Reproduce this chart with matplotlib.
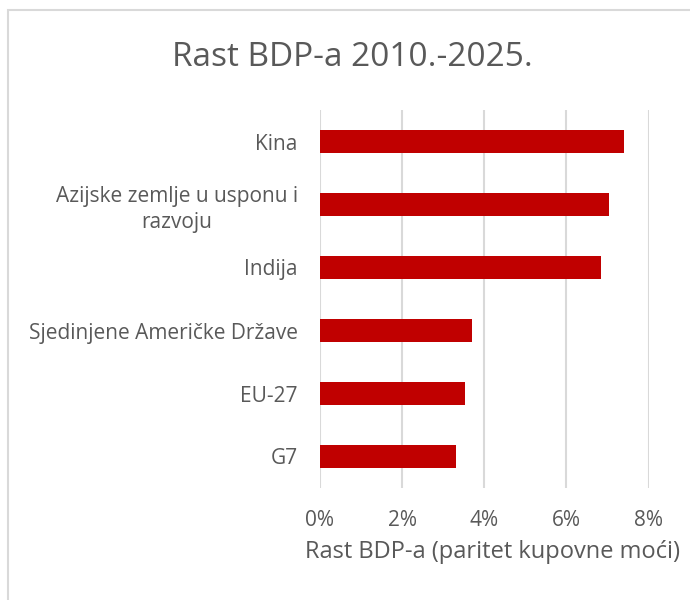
import matplotlib
matplotlib.use("Agg")
import matplotlib.pyplot as plt
from matplotlib.patches import Rectangle
from matplotlib.ticker import PercentFormatter

# Podaci (procjena s grafa), od vrha prema dnu
zemlje = ['Kina', 'Azijske zemlje u usponu i\nrazvoju', 'Indija',
          'Sjedinjene Američke Države', 'EU-27', 'G7']
rast = [7.41, 7.04, 6.85, 3.69, 3.54, 3.32]
ticks = [0, 2, 4, 6, 8]

text_col = '#595959'
bar_col = '#C00000'
grid_col = '#d9d9d9'

plt.rcParams['font.family'] = ['Open Sans', 'DejaVu Sans']

fig = plt.figure(figsize=(6.9, 6.0), dpi=100)
ax = fig.add_axes([320 / 690, 1 - 488 / 600, 328.5 / 690, 378 / 600])

y = list(range(len(zemlje)))[::-1]
ax.barh(y, rast, height=0.35, color=bar_col, zorder=3)

ax.set_xlim(0, 8)
ax.set_ylim(-0.5, len(zemlje) - 0.5)
ax.set_xticks(ticks)
ax.xaxis.set_major_formatter(PercentFormatter(decimals=0))
ax.set_yticks(y)
ax.set_yticklabels(zemlje, multialignment='center', linespacing=1.3)
ax.tick_params(axis='both', length=0, colors=text_col, labelsize=15)
ax.tick_params(axis='x', pad=16)
ax.tick_params(axis='y', pad=16)
ax.grid(axis='x', color=grid_col, linewidth=1.5, zorder=0)
for s in ax.spines.values():
    s.set_visible(False)

ax.set_xlabel('Rast BDP-a (paritet kupovne moći)', fontsize=17, color=text_col, labelpad=6)
ax.xaxis.label.set_x(0.525)

fig.text(0.51, 0.905, 'Rast BDP-a 2010.-2025.', ha='center', va='center',
         fontsize=24, color=text_col)

# okvir grafikona
fig.patches.append(Rectangle((8 / 690, -0.1), 1.2, 1 - 10 / 600 + 0.1,
                             transform=fig.transFigure, fill=False,
                             edgecolor=grid_col, linewidth=1.5))

fig.savefig('out.png', dpi=100)
